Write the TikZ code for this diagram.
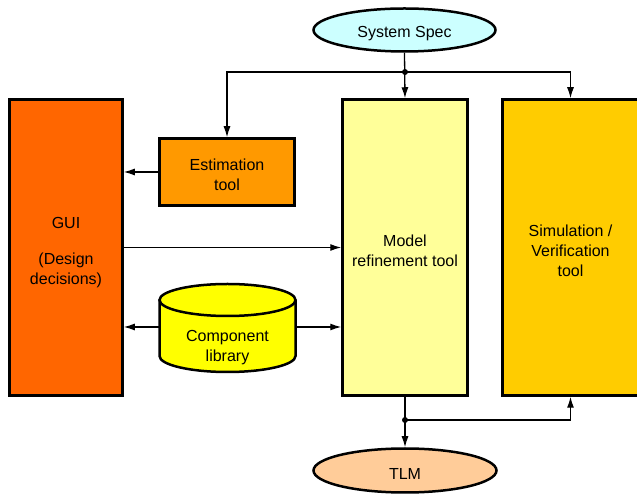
\documentclass[tikz,border=0pt]{standalone}
\usepackage{fontspec}
\setmainfont{Liberation Sans}
\usetikzlibrary{arrows.meta}
\usetikzlibrary{shapes.geometric}

\definecolor{specfill}{HTML}{CCFFFF}
\definecolor{guifill}{HTML}{FF6600}
\definecolor{estfill}{HTML}{FF9900}
\definecolor{modelfill}{HTML}{FFFF99}
\definecolor{simfill}{HTML}{FFCC00}
\definecolor{libfill}{HTML}{FFFF00}
\definecolor{tlmfill}{HTML}{FFCC99}

% pushes a node's text a little lower
\newcommand{\lowr}{\rule{0pt}{18pt}}

\begin{document}
\begin{tikzpicture}[x=1pt, y=1pt,
    every node/.style={font=\fontsize{16}{20}\selectfont},
    box/.style={draw, line width=2.5pt, align=center, inner sep=0pt},
    oval/.style={box, ellipse},
    link/.style={line width=1.3pt, -{Latex[length=11pt,width=7pt]}}]
    \useasboundingbox (0,0) rectangle (637,495);
    \clip (0,0) rectangle (637,495);

    % blocks
    \node [oval, fill=specfill, minimum width=182pt, minimum height=43pt] (spec) at (404.5,465) {\lowr System Spec};
    \node [box, fill=guifill, minimum width=113pt, minimum height=296pt] (gui) at (66,247.5) {\rule{0pt}{22pt}GUI\\[16pt](Design\\decisions)};
    \node [box, fill=estfill, minimum width=135pt, minimum height=67pt] (est) at (227,323) {\lowr Estimation\\tool};
    \node [box, fill=modelfill, minimum width=125pt, minimum height=296pt] (model) at (405,247.5) {\lowr Model\\refinement tool};
    \node [box, fill=simfill, minimum width=136pt, minimum height=296pt] (sim) at (570.5,247.5) {\lowr Simulation /\\Verification\\tool};
    \node [oval, fill=tlmfill, minimum width=183pt, minimum height=44pt] (tlm) at (405,24.5) {\lowr TLM};

    % component library
    \draw [line width=2.5pt, fill=libfill] (159.5,195) -- (159.5,139) arc (180:360:68pt and 16pt) -- (295.5,195);
    \draw [line width=2.5pt, fill=libfill] (227.5,195) ellipse (68pt and 16pt);
    \node [align=center] (lib) at (227.5,151) {\lowr Component\\library};
    \coordinate (libW) at (159.5,168);
    \coordinate (libE) at (295.5,168);

    % connectors
    \coordinate (jtop) at (405,423);
    \coordinate (jbot) at (405,75);
    \draw [link] (spec.south) -- (model.north);
    \draw [link] (jtop) -| (est.north);
    \draw [link] (jtop) -| (sim.north);
    \fill (jtop) circle (3pt);
    \draw [link] (est.west) -- (est.west -| gui.east);
    \draw [link] (gui.east) -- (model.west);
    \draw [link] (libW) -- (libW -| gui.east);
    \draw [link] (libE) -- (libE -| model.west);
    \draw [link] (model.south) -- (tlm.north);
    \draw [link] (jbot) -| (sim.south);
    \fill (jbot) circle (3pt);
\end{tikzpicture}
\end{document}
